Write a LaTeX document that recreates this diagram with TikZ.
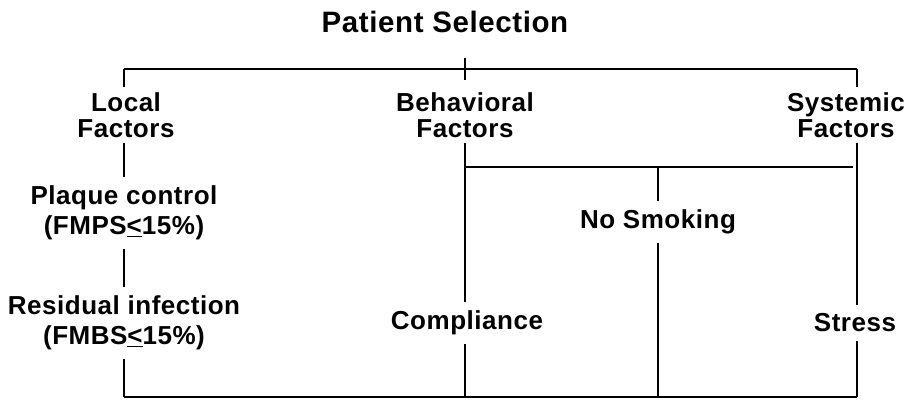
\documentclass[tikz,border=0pt]{standalone}
\usepackage{fontspec}
\setmainfont{Liberation Sans}[LetterSpace=2]
\usepackage{tikz}

\newcommand\ltbar{\underline{<}}

\tikzset{
  every node/.style={align=center, inner sep=0pt, outer sep=5pt},
  factor/.style={font=\bfseries\fontsize{26}{26}\selectfont},
  item/.style={font=\bfseries\fontsize{26}{30}\selectfont, outer sep=9pt},
  heavy/.style={line width=2.6pt},
  light/.style={line width=1.5pt},
}

\begin{document}
\begin{tikzpicture}[x=1pt,y=-1pt]
    \useasboundingbox (0,0) rectangle (912,410);
    % headings
    \node[font=\bfseries\fontsize{29.5}{32}\selectfont] (title) at (445,22) {Patient Selection};
    \node[factor] (local) at (126,115) {Local\\Factors};
    \node[factor] (behav) at (465,115) {Behavioral\\Factors};
    \node[factor] (system) at (846,115) {Systemic\\Factors};
    % criteria
    \node[item] (plaque) at (124,213) {Plaque control\\(FMPS\ltbar15\%)};
    \node[item] (residual) at (124,323) {Residual infection\\(FMBS\ltbar15\%)};
    \node[item] (smoking) at (658,222) {No Smoking};
    \node[item] (compliance) at (467,323) {Compliance};
    \node[item] (stress) at (855,323) {Stress};
    % junctions
    \coordinate (tl) at (124,69);
    \coordinate (tr) at (857,69);
    \coordinate (ttop) at (465,58);
    \coordinate (tbot) at (465,80);
    \coordinate (split) at (465,167);
    \coordinate (splitr) at (853,167);
    \coordinate (mid) at (658,167);
    \coordinate (bl) at (124,397);
    \coordinate (bc) at (465,397);
    \coordinate (bm) at (658,397);
    \coordinate (br) at (857,397);
    % top bar
    \draw[heavy] (tl) -- (tr);
    \draw[heavy] (ttop) -- (tbot);
    \draw[light] (tl) -- (local.north -| tl);
    \draw[light] (tr) -- (system.north -| tr);
    % local column
    \draw[light] (local.south -| tl) -- (plaque.north);
    \draw[light] (plaque.south) -- (residual.north);
    \draw[light] (residual.south) -- (bl);
    % behavioral column
    \draw[heavy] (behav.south) -- (compliance.north -| bc);
    \draw[heavy] (compliance.south -| bc) -- (bc);
    \draw[heavy] (split) -- (splitr);
    \draw[light] (mid) -- (smoking.north);
    \draw[light] (smoking.south) -- (bm);
    % systemic column
    \draw[light] (system.south -| tr) -- (stress.north -| tr);
    \draw[light] (stress.south -| tr) -- (br);
    % bottom bar
    \draw[heavy] (bl) -- (br);
\end{tikzpicture}
\end{document}
